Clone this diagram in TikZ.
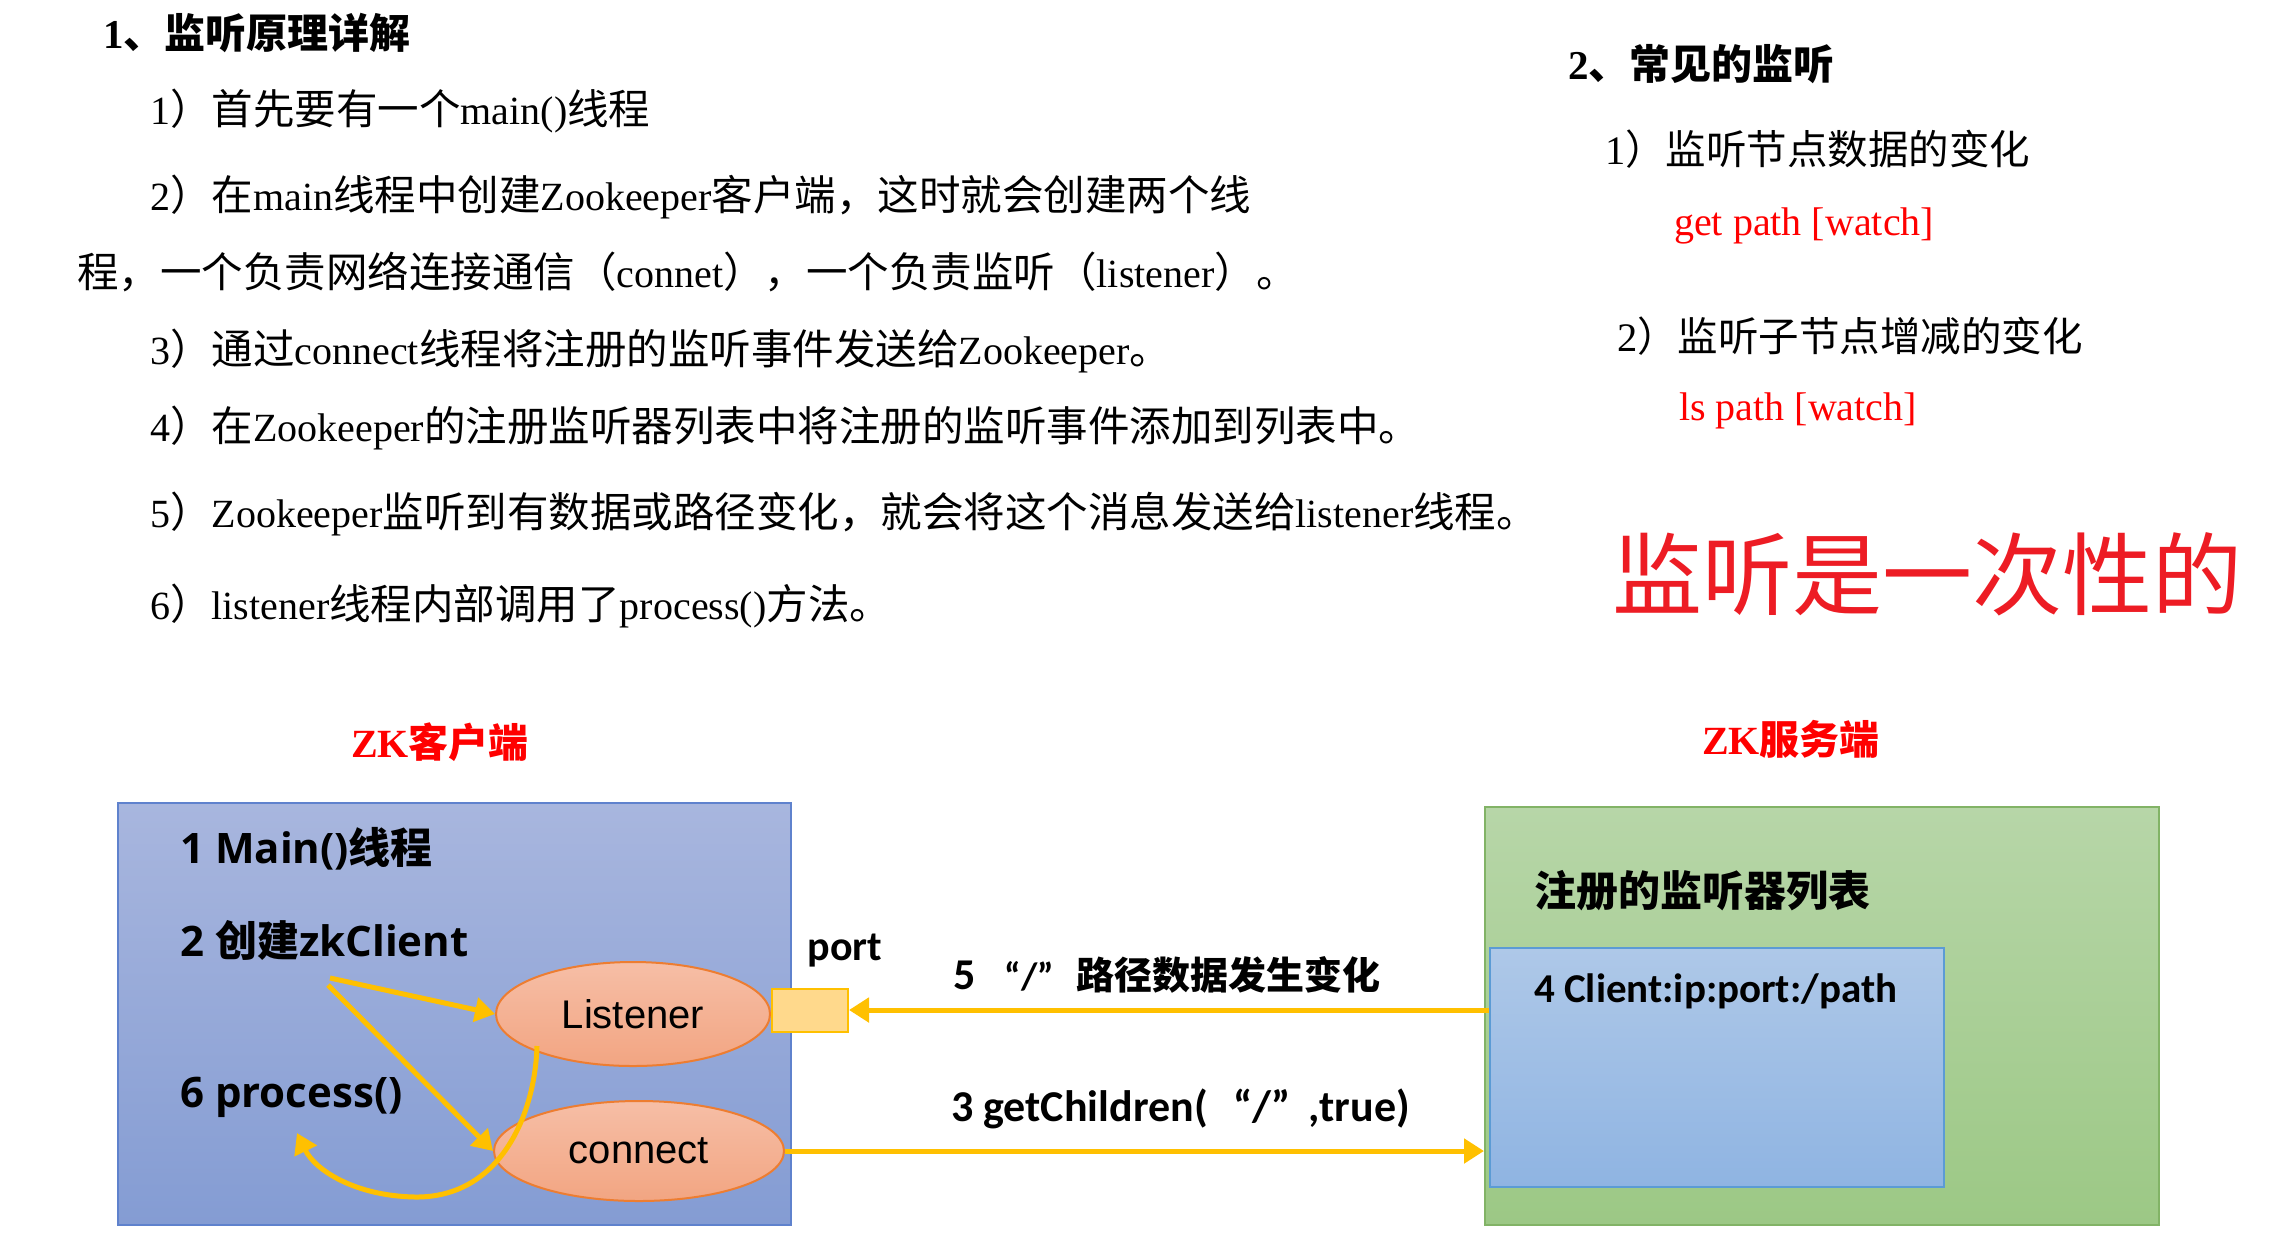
\documentclass[tikz,border=0pt]{standalone}
\usepackage{fontspec}
\setmainfont{Liberation Serif}
\newfontfamily\zhfont{Noto Sans CJK SC}
\newfontfamily\dgfont{Carlito}
\newfontfamily\osfont{Open Sans}
\newfontfamily\arialfont{Liberation Sans}
\usetikzlibrary{arrows.meta,shapes.geometric}
\newcommand\zh[1]{{\zhfont #1}}
\newcommand\zb[1]{{\zhfont\fontsize{41.5}{50}\selectfont #1}}
\definecolor{bluetop}{RGB}{168,182,222}
\definecolor{bluebot}{RGB}{132,156,211}
\definecolor{blueline}{RGB}{95,130,205}
\definecolor{saltop}{RGB}{246,190,166}
\definecolor{salbot}{RGB}{242,165,130}
\definecolor{salline}{RGB}{237,125,49}
\definecolor{gold}{RGB}{255,192,0}
\definecolor{portfill}{RGB}{255,217,140}
\definecolor{greentop}{RGB}{183,214,168}
\definecolor{greenbot}{RGB}{156,200,133}
\definecolor{greenline}{RGB}{130,179,102}
\definecolor{ibluetop}{RGB}{174,200,232}
\definecolor{ibluebot}{RGB}{143,180,226}
\definecolor{ibluline}{RGB}{91,155,213}
\definecolor{bigred}{RGB}{237,28,36}
\begin{document}
\begin{tikzpicture}[x=1pt,y=-1pt,
  body/.style={anchor=west, inner sep=0pt, font=\fontsize{40}{48}\selectfont},
  rbody/.style={anchor=west, inner sep=0pt, font=\fontsize{40.5}{48}\selectfont},
  head/.style={anchor=west, inner sep=0pt, font=\fontsize{41}{48}\selectfont\bfseries},
  redtxt/.style={body, text={rgb,255:red,255;green,0;blue,0}},
  dg/.style={anchor=west, inner sep=0pt, font=\fontsize{42}{50}\selectfont\bfseries\dgfont},
  dgl/.style={anchor=west, inner sep=0pt, font=\fontsize{42}{50}\selectfont\bfseries\osfont},
  zklabel/.style={inner sep=0pt, text={rgb,255:red,255;green,0;blue,0}, font=\fontsize{40}{48}\selectfont\bfseries},
  thread/.style={ellipse, draw=salline, line width=2pt, top color=saltop, bottom color=salbot, inner sep=0pt, font=\fontsize{40}{48}\selectfont\arialfont},
  arr/.style={draw=gold, line width=5pt, -{Triangle[length=20pt,width=24pt]}}
]
\useasboundingbox (0,0) rectangle (2291,1235);
\fill[white] (0,0) rectangle (2291,1235);

% ---- left text ----
\node[head] (h1) at (103,33) {1\zh{、监听原理详解}};
\node[body] (t1) at (150,111) {1\zb{）首先要有一个}main()\zb{线程}};
\node[body] (t2) at (150,197) {2\zb{）在}main\zb{线程中创建}Zookeeper\zb{客户端，这时就会创建两个线}};
\node[body] (t3) at (77,272) {\zb{程，一个负责网络连接通信（}connet\zb{），一个负责监听（}listener\zb{）。}};
\node[body] (t4) at (150,351) {3\zb{）通过}connect\zb{线程将注册的监听事件发送给}Zookeeper\zb{。}};
\node[body] (t5) at (150,428) {4\zb{）在}Zookeeper\zb{的注册监听器列表中将注册的监听事件添加到列表中。}};
\node[body] (t6) at (150,514) {5\zb{）}Zookeeper\zb{监听到有数据或路径变化，就会将这个消息发送给}listener\zb{线程。}};
\node[body] (t7) at (150,606) {6\zb{）}listener\zb{线程内部调用了}process()\zb{方法。}};

% ---- right text ----
\node[head] (h2) at (1568,64) {2\zh{、常见的监听}};
\node[rbody] (r1) at (1605,149) {1\zh{）监听节点数据的变化}};
\node[redtxt] (r1c) at (1674,226) {get path [watch]};
\node[rbody] (r2) at (1617,336) {2\zh{）监听子节点增减的变化}};
\node[redtxt] (r2c) at (1679,411) {ls path [watch]};
\node[anchor=west, inner sep=0pt, text=bigred, font=\fontsize{90}{100}\selectfont\zhfont] (once) at (1612,574) {监听是一次性的};

% ---- diagram ----
\node[zklabel] (zkc) at (440,742) {ZK\zh{客户端}};
\node[zklabel] (zks) at (1791,739) {ZK\zh{服务端}};

\node[draw=blueline, line width=2pt, top color=bluetop, bottom color=bluebot,
      anchor=north west, minimum width=673pt, minimum height=422pt, inner sep=0pt] (client) at (117,802) {};
\node[draw=greenline, line width=2pt, top color=greentop, bottom color=greenbot,
      anchor=north west, minimum width=674pt, minimum height=418pt, inner sep=0pt] (server) at (1484,806) {};
\node[draw=ibluline, line width=2pt, top color=ibluetop, bottom color=ibluebot,
      anchor=north west, minimum width=454pt, minimum height=239pt, inner sep=0pt] (inner) at (1489,947) {};

\node[dgl] (main) at (180,849) {1 Main()\zh{线程}};
\node[dgl] (zkcl) at (180,940) {2 \zh{创建}zkClient};
\node[dgl] (proc) at (180,1097) {6 process()};

\node[thread, minimum width=274pt, minimum height=104pt] (listener) at (633,1014) {Listener};
\node[thread, minimum width=290pt, minimum height=100pt] (connect) at (639,1151) {connect};

\node[draw=gold, line width=2pt, fill=portfill, minimum width=76pt, minimum height=43pt, inner sep=0pt] (port) at (810,1010) {};
\node[inner sep=0pt, font=\fontsize{42}{50}\selectfont\bfseries\dgfont] (portlbl) at (845,951) {port};

\node[dg, font=\fontsize{38}{46}\selectfont\bfseries\dgfont] (l5) at (953,975) {{\fontsize{44}{50}\selectfont 5}\hspace{29pt}“/”\hspace{23pt}\zh{路径数据发生变化}};
\node[dg, font=\fontsize{44}{50}\selectfont\bfseries\dgfont] (l3) at (951,1109) {3 getChildren(\hspace{26pt}“/”\hspace{18pt},true)};

\node[dg] (reg) at (1534,891) {\zh{注册的监听器列表}};
\node[dg, font=\fontsize{41}{50}\selectfont\bfseries\dgfont] (cli) at (1534,991) {4 Client:ip:port:/path};

% connectors
\coordinate (zka) at (330,978);
\coordinate (zkb) at (328,985);
\draw[arr] (zka) -- (listener.west);
\draw[arr] (zkb) -- (connect.west);
\draw[arr] (inner.west |- port.east) -- (port.east);
\draw[arr] (connect.east) -- (connect.east -| server.west);
\coordinate (lb) at (537,1046);
\coordinate (ptip) at (297,1133);
\draw[arr]
  (lb) .. controls (535,1115) and (500,1198) .. (415,1197)
       .. controls (355,1196) and (315,1170) .. (ptip);
\end{tikzpicture}
\end{document}
